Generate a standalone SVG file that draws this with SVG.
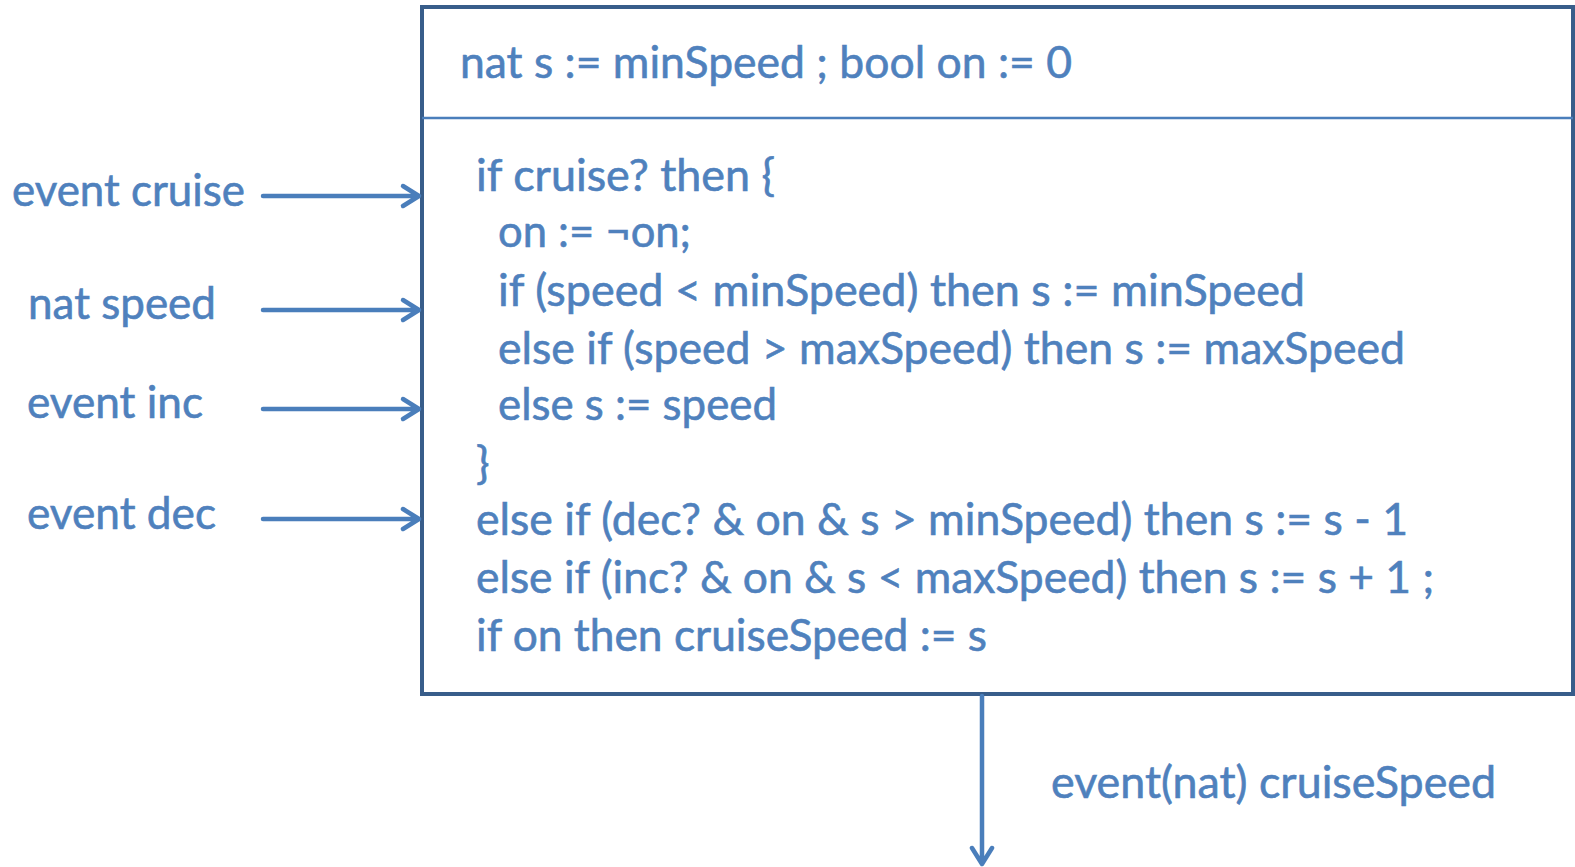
<svg xmlns="http://www.w3.org/2000/svg" width="1575" height="867" viewBox="0 0 1575 867">
<style>
text{font-family:Lato,"Open Sans","Liberation Sans",sans-serif;font-size:45px;fill:#4F81BD;stroke:#4F81BD;stroke-width:0.6}
.conn{stroke:#4A7EBB;stroke-width:4.5;fill:none;stroke-linecap:round;stroke-linejoin:round}
</style>
<rect width="1575" height="867" fill="#ffffff"/>
<g id="node-box">
<rect x="422" y="7" width="1151" height="687" fill="#ffffff" stroke="#385D8A" stroke-width="4"/>
<line x1="422" y1="118" x2="1573" y2="118" stroke="#4A7EBB" stroke-width="2.5"/>
<text x="460" y="78" textLength="612" lengthAdjust="spacingAndGlyphs">nat s := minSpeed ; bool on := 0</text>
<text x="476" y="191" textLength="299" lengthAdjust="spacingAndGlyphs">if cruise? then {</text>
<text x="498" y="247" textLength="193" lengthAdjust="spacingAndGlyphs">on := ¬on;</text>
<text x="498" y="306" textLength="807" lengthAdjust="spacingAndGlyphs">if (speed &lt; minSpeed) then s := minSpeed</text>
<text x="498" y="364" textLength="907" lengthAdjust="spacingAndGlyphs">else if (speed &gt; maxSpeed) then s := maxSpeed</text>
<text x="498" y="420" textLength="279" lengthAdjust="spacingAndGlyphs">else s := speed</text>
<text x="476" y="479">}</text>
<text x="476" y="535" textLength="932" lengthAdjust="spacingAndGlyphs">else if (dec? &amp; on &amp; s &gt; minSpeed) then s := s - 1</text>
<text x="476" y="593" textLength="958" lengthAdjust="spacingAndGlyphs">else if (inc? &amp; on &amp; s &lt; maxSpeed) then s := s + 1 ;</text>
<text x="476" y="651" textLength="511" lengthAdjust="spacingAndGlyphs">if on then cruiseSpeed := s</text>
</g>
<g id="node-cruise"><text x="12" y="206" textLength="233" lengthAdjust="spacingAndGlyphs">event cruise</text></g>
<g id="node-speed"><text x="28" y="319" textLength="188" lengthAdjust="spacingAndGlyphs">nat speed</text></g>
<g id="node-inc"><text x="27" y="418" textLength="176" lengthAdjust="spacingAndGlyphs">event inc</text></g>
<g id="node-dec"><text x="27" y="529" textLength="189" lengthAdjust="spacingAndGlyphs">event dec</text></g>
<g id="node-out"><text x="1051" y="798" textLength="445" lengthAdjust="spacingAndGlyphs">event(nat) cruiseSpeed</text></g>
<g id="connectors">
<path class="conn" d="M263,196 H419 M403,186 L419,196 L403,206"/>
<path class="conn" d="M263,310 H419 M403,300 L419,310 L403,320"/>
<path class="conn" d="M263,409 H419 M403,399 L419,409 L403,419"/>
<path class="conn" d="M263,519 H419 M403,509 L419,519 L403,529"/>
<path class="conn" d="M982,696 V864 M972,848 L982,864 L992,848"/>
</g>
</svg>
